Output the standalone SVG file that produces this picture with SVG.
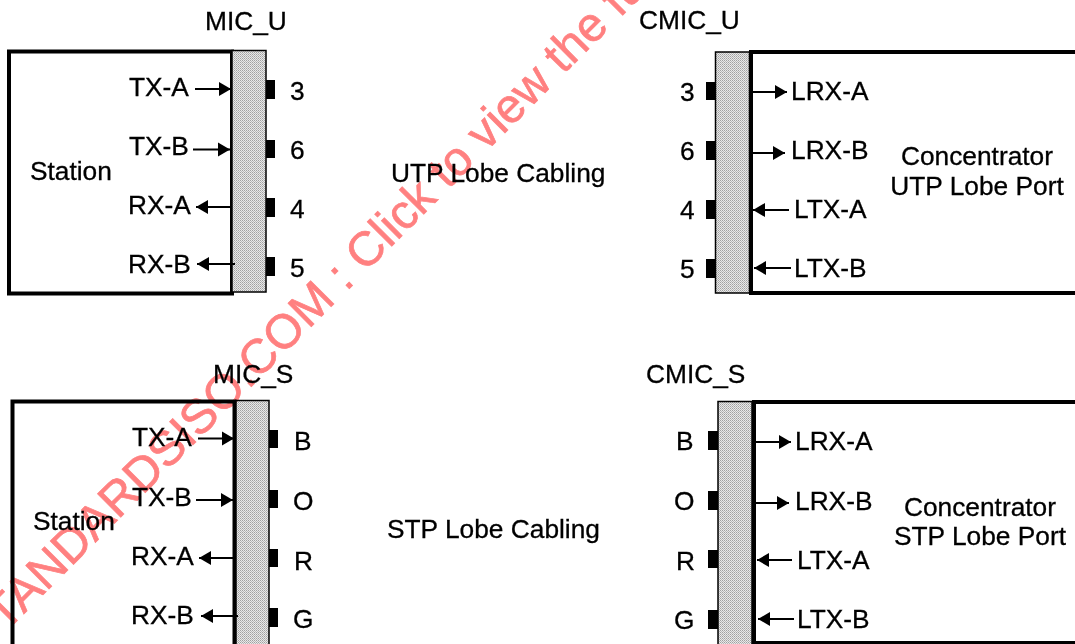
<svg xmlns="http://www.w3.org/2000/svg" width="1075" height="644" viewBox="0 0 1075 644">
<style>
text{font-family:"Liberation Sans",Arial,sans-serif;font-size:26.300px;fill:#000;stroke:#000;stroke-width:.3}
text.wm{font-size:48px;fill:#ff8080;stroke:#ff8080;stroke-width:.7;mix-blend-mode:multiply}
.box{fill:#fff;stroke:#000;stroke-width:4}
.strip{fill:url(#stip);stroke:#000;stroke-width:1.500}
.pin{fill:#000}
.arr{stroke:#000;stroke-width:2;fill:none;marker-end:url(#ah)}
</style>
<defs>
<pattern id="stip" width="2" height="2" patternUnits="userSpaceOnUse"><rect width="2" height="2" fill="#e8e8e8"/><rect width="1" height="1" fill="#a0a0a0"/><rect x="1" y="1" width="1" height="1" fill="#b8b8b8"/></pattern>
<marker id="ah" markerUnits="userSpaceOnUse" markerWidth="12" markerHeight="15" refX="12" refY="7.500" orient="auto"><path d="M0 0.500L12 7.500L0 14.500Z" fill="#000"/></marker>
</defs>
<rect width="1075" height="644" fill="#fff"/>
<g id="station-u"><rect class="box" x="9" y="51.500" width="223" height="242"/><text x="30" y="180">Station</text><text x="129" y="96">TX-A</text><text x="129" y="155">TX-B</text><text x="128" y="214">RX-A</text><text x="128" y="273">RX-B</text></g>
<g id="mic-u"><rect class="strip" x="232" y="50.500" width="34" height="241.500"/><rect class="pin" x="266" y="80" width="9" height="19"/><rect class="pin" x="266" y="140" width="9" height="18"/><rect class="pin" x="266" y="198" width="9" height="19"/><rect class="pin" x="266" y="257" width="9" height="19"/><text x="205" y="30">MIC_U</text><text x="290" y="100">3</text><text x="290" y="159">6</text><text x="290" y="218">4</text><text x="290" y="277">5</text></g>
<g id="station-s"><rect class="box" x="12.500" y="401.500" width="222" height="260"/><text x="33" y="530">Station</text><text x="132" y="446">TX-A</text><text x="132" y="506">TX-B</text><text x="131" y="565">RX-A</text><text x="131" y="624">RX-B</text></g>
<g id="mic-s"><rect class="strip" x="236" y="400.500" width="33" height="260"/><rect class="pin" x="269" y="430" width="9" height="18"/><rect class="pin" x="269" y="490" width="9" height="18"/><rect class="pin" x="269" y="549" width="9" height="18"/><rect class="pin" x="269" y="608" width="9" height="19"/><text x="213" y="383">MIC_S</text><text x="294" y="450">B</text><text x="293" y="510">O</text><text x="294" y="570">R</text><text x="293" y="628">G</text></g>
<g id="port-u"><rect class="box" x="751" y="52" width="360" height="241"/><text x="791" y="100">LRX-A</text><text x="791" y="159">LRX-B</text><text x="794" y="218">LTX-A</text><text x="794" y="277">LTX-B</text><text x="977" y="165" text-anchor="middle">Concentrator</text><text x="977" y="195" text-anchor="middle">UTP Lobe Port</text></g>
<g id="cmic-u"><rect class="strip" x="715.500" y="52" width="34" height="241"/><rect class="pin" x="706" y="82" width="10" height="18"/><rect class="pin" x="706" y="141" width="10" height="19"/><rect class="pin" x="706" y="200" width="10" height="19"/><rect class="pin" x="706" y="259" width="10" height="19"/><text x="639" y="29">CMIC_U</text><text x="680" y="101">3</text><text x="680" y="160">6</text><text x="680" y="219">4</text><text x="680" y="278">5</text></g>
<g id="port-s"><rect class="box" x="754" y="402" width="360" height="241"/><text x="795" y="450">LRX-A</text><text x="795" y="510">LRX-B</text><text x="797" y="569">LTX-A</text><text x="797" y="628">LTX-B</text><text x="980" y="516" text-anchor="middle">Concentrator</text><text x="980" y="545" text-anchor="middle">STP Lobe Port</text></g>
<g id="cmic-s"><rect class="strip" x="718" y="401.500" width="34" height="260"/><rect class="pin" x="708" y="431" width="10" height="19"/><rect class="pin" x="708" y="491" width="10" height="19"/><rect class="pin" x="708" y="550" width="10" height="18"/><rect class="pin" x="708" y="610" width="10" height="19"/><text x="646" y="383">CMIC_S</text><text x="676" y="450">B</text><text x="674" y="510">O</text><text x="676" y="570">R</text><text x="674" y="629">G</text></g>
<g id="utp-label"><text x="391" y="182">UTP Lobe Cabling</text></g>
<g id="stp-label"><text x="387" y="538">STP Lobe Cabling</text></g>
<g id="connectors">
<path class="arr" d="M195 89H231"/><path class="arr" d="M193 149.500H230"/><path class="arr" d="M230 207H196"/><path class="arr" d="M235 264H197"/>
<path class="arr" d="M198 438.500H234"/><path class="arr" d="M196 500H233"/><path class="arr" d="M233 558H199"/><path class="arr" d="M238 616H201"/>
<path class="arr" d="M752 92H787"/><path class="arr" d="M752 153H785"/><path class="arr" d="M789 210H753"/><path class="arr" d="M791 268H754"/>
<path class="arr" d="M756 442H791"/><path class="arr" d="M756 503H789"/><path class="arr" d="M792 560H757"/><path class="arr" d="M794 619H758"/>
</g>
<text class="wm" transform="translate(5.500 632.500) rotate(-45)">TANDARDSISO.COM : Click to view the fu</text>
</svg>
